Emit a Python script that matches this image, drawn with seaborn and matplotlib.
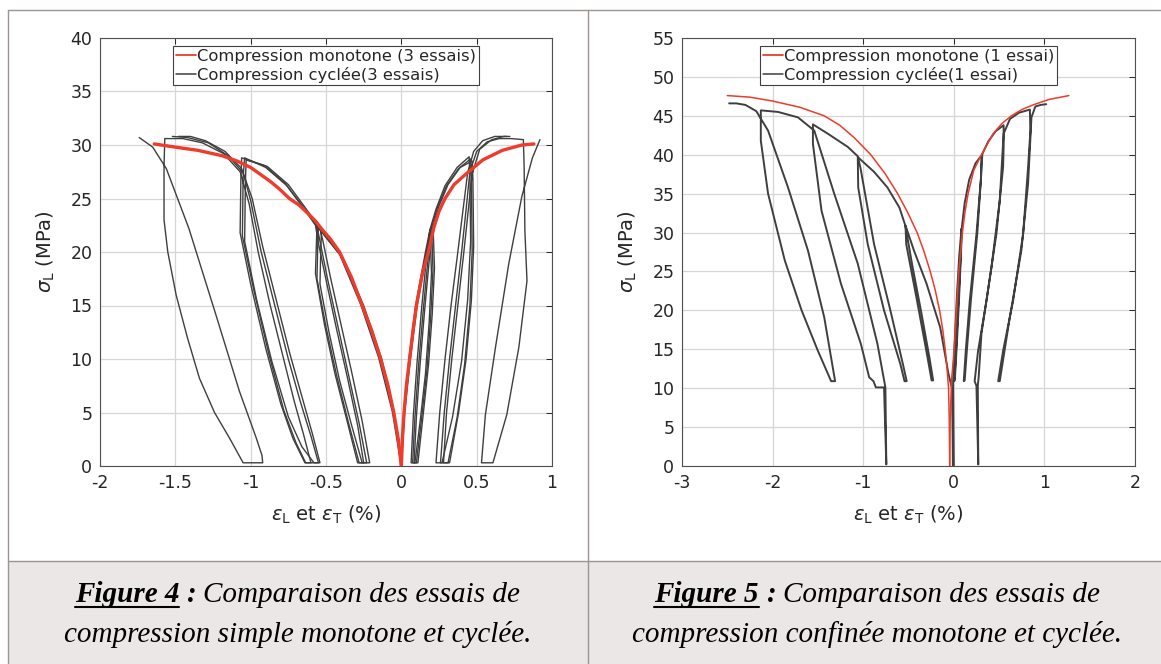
import matplotlib
matplotlib.use('Agg')
import pandas as pd
import matplotlib.pyplot as plt
from matplotlib.lines import Line2D
from matplotlib.patches import Rectangle
from matplotlib.ticker import FormatStrFormatter
from matplotlib.transforms import IdentityTransform
import seaborn as sns

# ---- Figure 4 : compression simple (x = strain %, y = sigma_L MPa) ----
fig4_mono_T = [(0.0, 0.0), (-0.02, 2.5), (-0.05, 5.0), (-0.09, 7.6), (-0.137, 10.0), (-0.195, 12.6),
               (-0.26, 15.0), (-0.33, 17.6), (-0.41, 20.0), (-0.47, 21.2), (-0.52, 22.0), (-0.57, 22.9),
               (-0.62, 23.6), (-0.68, 24.4), (-0.743, 25.0), (-0.81, 25.9), (-0.87, 26.6), (-0.94, 27.3),
               (-1.0, 27.9), (-1.09, 28.5), (-1.19, 29.0), (-1.35, 29.5), (-1.5, 29.8), (-1.64, 30.1)]
fig4_mono_L = [(0.0, 0.0), (0.007, 2.5), (0.018, 5.0), (0.034, 7.6), (0.055, 10.0), (0.077, 12.6),
               (0.10, 15.0), (0.14, 18.0), (0.18, 20.0), (0.216, 22.3), (0.25, 23.8), (0.29, 25.0),
               (0.35, 26.3), (0.43, 27.3), (0.54, 28.6), (0.67, 29.5), (0.80, 30.0), (0.88, 30.1)]

fig4_cyc_T_a = [(0.0, 0.0), (-0.05, 5.0), (-0.14, 10.2), (-0.26, 15.0), (-0.40, 19.6), (-0.55, 22.3),
                (-0.555, 20.5), (-0.56, 17.5), (-0.50, 13.0), (-0.43, 8.5), (-0.35, 4.0), (-0.28, 0.3),
                (-0.23, 0.3), (-0.28, 4.0), (-0.35, 8.5), (-0.42, 13.0), (-0.49, 17.5), (-0.54, 21.0), (-0.56, 22.4),
                (-0.64, 24.0), (-0.76, 26.2), (-0.90, 27.9), (-1.04, 28.8),
                (-1.05, 27.0), (-1.055, 21.5), (-0.98, 16.5), (-0.88, 10.5), (-0.78, 5.2), (-0.70, 2.2), (-0.635, 0.3),
                (-0.60, 0.3), (-0.65, 3.0), (-0.71, 6.0), (-0.79, 10.5), (-0.87, 15.0), (-0.95, 20.0), (-1.01, 24.5),
                (-1.07, 27.5), (-1.18, 29.2), (-1.32, 30.2), (-1.45, 30.6), (-1.57, 30.6),
                (-1.575, 28.0), (-1.575, 23.0), (-1.55, 20.0), (-1.495, 16.0), (-1.42, 12.0), (-1.34, 8.2),
                (-1.24, 5.0), (-1.14, 2.6), (-1.05, 0.3),
                (-0.92, 0.3), (-0.925, 1.0), (-0.965, 2.7), (-1.075, 7.0), (-1.23, 14.1), (-1.41, 22.2),
                (-1.56, 27.8), (-1.65, 29.8), (-1.74, 30.7)]
fig4_cyc_T_b = [(0.0, 0.0), (-0.05, 5.2), (-0.13, 10.0), (-0.25, 15.0), (-0.39, 19.5), (-0.53, 22.1),
                (-0.535, 20.0), (-0.54, 17.0), (-0.48, 12.5), (-0.41, 8.0), (-0.33, 3.8), (-0.26, 0.3),
                (-0.21, 0.3), (-0.26, 4.2), (-0.33, 8.8), (-0.40, 13.2), (-0.47, 17.6), (-0.52, 21.0), (-0.54, 22.2),
                (-0.62, 23.8), (-0.75, 26.3), (-0.89, 28.0), (-1.03, 28.6),
                (-1.035, 26.5), (-1.04, 21.0), (-0.96, 15.5), (-0.86, 9.8), (-0.75, 4.6), (-0.66, 1.8), (-0.58, 0.3),
                (-0.54, 0.3), (-0.59, 3.0), (-0.66, 6.5), (-0.74, 10.5), (-0.83, 15.5), (-0.92, 20.5), (-0.99, 25.0),
                (-1.06, 27.8), (-1.17, 29.4), (-1.30, 30.4), (-1.40, 30.8), (-1.48, 30.8)]
fig4_cyc_T_c = [(0.0, 0.0), (-0.06, 5.1), (-0.15, 10.1), (-0.27, 15.1), (-0.41, 19.8), (-0.56, 22.4),
                (-0.565, 20.2), (-0.57, 18.0), (-0.51, 13.2), (-0.44, 8.6), (-0.36, 4.2), (-0.29, 0.3),
                (-0.25, 0.3), (-0.29, 3.8), (-0.36, 8.4), (-0.43, 12.8), (-0.50, 17.4), (-0.55, 20.8), (-0.57, 22.5),
                (-0.65, 24.1), (-0.77, 26.4), (-0.91, 28.1), (-1.06, 28.8),
                (-1.065, 26.8), (-1.07, 21.8), (-1.00, 17.0), (-0.90, 11.0), (-0.80, 5.8), (-0.72, 2.6), (-0.64, 0.3),
                (-0.55, 0.3), (-0.60, 2.8), (-0.67, 6.0), (-0.75, 10.0), (-0.84, 15.0), (-0.93, 20.0), (-1.00, 24.8),
                (-1.05, 27.4), (-1.15, 29.0), (-1.28, 30.2), (-1.42, 30.7), (-1.52, 30.8)]

fig4_cyc_L_a = [(0.0, 0.0), (0.02, 5.0), (0.055, 10.0), (0.10, 15.0), (0.165, 20.0), (0.20, 22.3),
                (0.205, 20.5), (0.21, 18.3), (0.195, 14.0), (0.17, 9.0), (0.135, 4.5), (0.10, 0.3),
                (0.075, 0.3), (0.09, 4.5), (0.115, 9.5), (0.145, 14.5), (0.175, 19.0), (0.20, 22.3),
                (0.24, 24.2), (0.30, 26.2), (0.38, 27.8), (0.46, 28.7),
                (0.465, 27.0), (0.47, 20.0), (0.455, 15.0), (0.42, 9.5), (0.37, 4.5), (0.31, 0.3),
                (0.26, 0.3), (0.285, 5.0), (0.32, 10.0), (0.36, 15.0), (0.40, 20.0), (0.43, 24.0), (0.455, 27.5),
                (0.50, 29.4), (0.57, 30.3), (0.65, 30.6), (0.73, 30.6), (0.81, 30.5),
                (0.815, 28.0), (0.82, 22.0), (0.834, 17.3), (0.78, 11.1), (0.70, 4.8), (0.608, 0.3),
                (0.532, 0.3), (0.558, 4.8), (0.625, 11.1), (0.713, 18.9), (0.80, 25.2), (0.87, 28.8), (0.92, 30.5)]
fig4_cyc_L_b = [(0.0, 0.0), (0.018, 5.0), (0.05, 10.0), (0.095, 15.0), (0.16, 20.0), (0.19, 22.1),
                (0.195, 20.2), (0.20, 18.0), (0.185, 13.5), (0.16, 8.6), (0.125, 4.2), (0.09, 0.3),
                (0.065, 0.3), (0.08, 4.8), (0.105, 9.8), (0.135, 14.8), (0.165, 19.2), (0.19, 22.1),
                (0.23, 24.0), (0.29, 26.2), (0.37, 27.9), (0.45, 28.9),
                (0.455, 27.2), (0.46, 21.0), (0.44, 15.5), (0.40, 9.8), (0.34, 4.6), (0.27, 0.3),
                (0.23, 0.3), (0.255, 5.0), (0.29, 10.0), (0.33, 15.0), (0.375, 20.0), (0.41, 24.0), (0.44, 27.4),
                (0.48, 29.4), (0.54, 30.4), (0.62, 30.8), (0.70, 30.8)]
fig4_cyc_L_c = [(0.0, 0.0), (0.022, 5.0), (0.06, 10.0), (0.105, 15.0), (0.17, 20.0), (0.21, 22.4),
                (0.215, 20.6), (0.22, 18.5), (0.205, 14.2), (0.18, 9.4), (0.145, 4.8), (0.11, 0.3),
                (0.085, 0.3), (0.10, 4.6), (0.125, 9.6), (0.155, 14.6), (0.185, 19.2), (0.21, 22.4),
                (0.25, 24.3), (0.31, 26.3), (0.39, 27.9), (0.47, 28.5),
                (0.475, 26.8), (0.48, 20.5), (0.465, 15.5), (0.43, 10.0), (0.38, 5.0), (0.32, 0.3),
                (0.28, 0.3), (0.30, 5.0), (0.335, 10.0), (0.375, 15.0), (0.415, 20.0), (0.445, 24.0), (0.47, 27.3),
                (0.52, 29.6), (0.60, 30.5), (0.68, 30.8), (0.72, 30.8)]

# ---- Figure 5 : compression confinee ----
fig5_mono_T = [(-0.045, 0.0), (-0.05, 6.0), (-0.058, 10.0), (-0.075, 12.6), (-0.095, 15.0), (-0.123, 17.6),
               (-0.157, 20.0), (-0.205, 22.6), (-0.26, 25.0), (-0.33, 27.6), (-0.405, 30.0), (-0.51, 32.6),
               (-0.62, 35.0), (-0.76, 37.6), (-0.916, 40.0), (-1.10, 42.2), (-1.26, 43.8), (-1.43, 45.0),
               (-1.70, 46.1), (-2.0, 46.9), (-2.25, 47.4), (-2.5, 47.6)]
fig5_mono_L = [(-0.045, 0.0), (-0.04, 6.0), (-0.025, 11.0), (0.004, 15.0), (0.03, 20.0), (0.055, 25.0),
               (0.095, 30.0), (0.123, 32.6), (0.158, 35.0), (0.22, 38.0), (0.305, 40.0), (0.434, 42.7),
               (0.53, 44.0), (0.636, 45.0), (0.75, 45.8), (0.875, 46.4), (1.05, 47.1), (1.27, 47.6)]

fig5_cyc_T = [(-0.01, 0.0), (-0.015, 6.0), (-0.02, 10.0), (-0.058, 11.8), (-0.15, 17.8), (-0.30, 23.4),
              (-0.44, 27.7), (-0.533, 30.9),
              (-0.525, 28.5), (-0.41, 21.5), (-0.30, 14.6), (-0.245, 11.0), (-0.228, 11.0), (-0.27, 14.0),
              (-0.36, 19.8), (-0.46, 25.9), (-0.535, 30.9),
              (-0.60, 33.2), (-0.733, 35.8), (-0.88, 37.8), (-1.06, 39.7),
              (-1.055, 35.8), (-0.95, 28.5), (-0.77, 20.0), (-0.59, 13.1), (-0.544, 10.9), (-0.52, 10.9),
              (-0.56, 13.0), (-0.70, 20.0), (-0.88, 28.5), (-1.03, 38.3), (-1.06, 39.8),
              (-1.17, 41.0), (-1.39, 42.7), (-1.555, 43.9),
              (-1.555, 41.4), (-1.46, 32.8), (-1.245, 23.4), (-1.026, 15.7), (-0.934, 11.4), (-0.887, 10.9),
              (-0.86, 10.1), (-0.77, 10.1), (-0.745, 0.2), (-0.755, 10.1), (-0.843, 15.7), (-1.06, 26.0),
              (-1.32, 35.0), (-1.54, 43.1), (-1.72, 44.8), (-1.94, 45.5), (-2.13, 45.7),
              (-2.13, 41.8), (-2.05, 35.0), (-1.865, 26.4), (-1.68, 20.0), (-1.50, 14.8), (-1.354, 10.9),
              (-1.31, 10.9), (-1.43, 19.1), (-1.61, 27.7), (-1.83, 35.8), (-2.05, 43.1), (-2.18, 45.6),
              (-2.30, 46.4), (-2.40, 46.6), (-2.48, 46.6)]
fig5_cyc_L = [(0.0, 0.0), (-0.005, 6.0), (-0.008, 10.8), (0.01, 16.0), (0.035, 22.0), (0.06, 27.0), (0.085, 30.5),
              (0.075, 27.0), (0.05, 21.0), (0.025, 15.0), (0.01, 11.6), (0.005, 10.9), (0.012, 11.2),
              (0.035, 16.0), (0.06, 22.0), (0.08, 27.5), (0.09, 30.8),
              (0.12, 33.8), (0.17, 36.8), (0.24, 38.9), (0.305, 39.9),
              (0.30, 37.0), (0.25, 29.8), (0.176, 21.2), (0.132, 14.8), (0.11, 10.9), (0.12, 11.0),
              (0.145, 15.0), (0.19, 21.5), (0.26, 30.0), (0.30, 37.0), (0.315, 40.1),
              (0.38, 41.7), (0.46, 43.0), (0.55, 43.8),
              (0.55, 41.0), (0.544, 38.4), (0.47, 29.8), (0.36, 21.2), (0.268, 14.8), (0.23, 10.9),
              (0.25, 10.3), (0.27, 0.2), (0.265, 10.3), (0.275, 11.5), (0.305, 17.0), (0.415, 25.5),
              (0.507, 34.1), (0.55, 42.7), (0.62, 44.6), (0.72, 45.4), (0.84, 45.8),
              (0.845, 43.0), (0.82, 38.4), (0.765, 29.8), (0.654, 21.2), (0.544, 14.8), (0.49, 10.9),
              (0.507, 10.9), (0.618, 19.1), (0.746, 27.7), (0.82, 36.3), (0.857, 44.8), (0.90, 46.2),
              (0.96, 46.4), (1.02, 46.5)]

fig4_legend = ['Compression monotone (3 essais)', 'Compression cyclée(3 essais)']
fig5_legend = ['Compression monotone (1 essai)', 'Compression cyclée(1 essai)']
fig4_xticks = [-2, -1.5, -1, -0.5, 0, 0.5, 1]
fig4_yticks = [0, 5, 10, 15, 20, 25, 30, 35, 40]
fig5_xticks = [-3, -2, -1, 0, 1, 2]
fig5_yticks = [0, 5, 10, 15, 20, 25, 30, 35, 40, 45, 50, 55]

W, H, DPI = 1161, 664, 100
RED = '#ee3b2b'
GRAY = '#3f3f3f'
INK = '#262626'
RULE = '#9c9490'


def paths_frame(paths):
    frames = []
    for name, pts in paths.items():
        d = pd.DataFrame(pts, columns=['x', 'y'])
        d['path'] = name
        frames.append(d)
    return pd.concat(frames, ignore_index=True)


def draw_panel(ax, mono, cyc, lw_mono, lw_cyc, xticks, yticks, labels):
    sns.lineplot(data=paths_frame(cyc), x='x', y='y', units='path', estimator=None, sort=False,
                 color=GRAY, linewidth=lw_cyc, ax=ax, legend=False)
    sns.lineplot(data=paths_frame(mono), x='x', y='y', units='path', estimator=None, sort=False,
                 color=RED, linewidth=lw_mono, ax=ax, legend=False)
    ax.set_xlim(xticks[0], xticks[-1])
    ax.set_ylim(yticks[0], yticks[-1])
    ax.set_xticks(xticks)
    ax.set_yticks(yticks)
    ax.xaxis.set_major_formatter(FormatStrFormatter('%g'))
    ax.yaxis.set_major_formatter(FormatStrFormatter('%g'))
    ax.grid(True, color='#d6d6d6', linewidth=0.9)
    ax.set_axisbelow(True)
    ax.tick_params(direction='in', top=True, right=True, length=4, width=0.7, colors=INK,
                   labelsize=12.5, pad=5.5)
    for s in ax.spines.values():
        s.set_color('#505050')
        s.set_linewidth(0.8)
    ax.set_xlabel(r'$\epsilon_\mathregular{L}$ et $\epsilon_\mathregular{T}$ (%)', fontsize=14, color=INK)
    ax.set_ylabel(r'$\sigma_\mathregular{L}$ (MPa)', fontsize=14, color=INK)
    ax.xaxis.label.set_va('center')
    ax.yaxis.label.set_va('center')
    ax.xaxis.set_label_coords(0.5, -49 / 428)
    ax.yaxis.set_label_coords(-54 / 452, 0.5)
    handles = [Line2D([], [], color=RED, linewidth=1.3), Line2D([], [], color=GRAY, linewidth=1.1)]
    leg = ax.legend(handles, labels, loc='upper center', fontsize=11.8, frameon=True, fancybox=False,
                    framealpha=1, edgecolor='#404040', borderpad=0.15, handlelength=1.25,
                    handletextpad=0.05, labelspacing=0.2, borderaxespad=0.5)
    leg.get_frame().set_linewidth(0.8)
    for t in leg.get_texts():
        t.set_color(INK)


def caption(fig, cx, num, rest1, line2):
    rend = fig.canvas.get_renderer()
    size = 21
    base = dict(family='Liberation Serif', size=size, style='italic', color='black',
                va='baseline', transform=IdentityTransform())
    y1 = H - 602
    y2 = H - 642
    space = 0.25 * size * DPI / 72
    pieces = [('Figure %d' % num, 'bold'), (':', 'bold'), (rest1, 'normal')]
    arts = [fig.text(0, y1, s, weight=w, ha='left', **base) for s, w in pieces]
    widths = [a.get_window_extent(rend).width for a in arts]
    total = sum(widths) + space * (len(arts) - 1)
    x = cx - total / 2
    x0 = x
    for a, w in zip(arts, widths):
        a.set_x(x)
        x += w + space
    fig.add_artist(Line2D([x0, x0 + widths[0]], [y1 - 5, y1 - 5], transform=IdentityTransform(),
                          color='black', linewidth=1.5))
    fig.text(cx, y2, line2, ha='center', **base)


sns.set_style('white')
plt.rcParams['font.family'] = ['DejaVu Sans']
plt.rcParams['axes.unicode_minus'] = False

fig = plt.figure(figsize=(W / DPI, H / DPI), dpi=DPI)
fig.patch.set_facecolor('white')

# table layout (cells, rules)
px = lambda x: x / W
py = lambda y: 1 - y / H
fig.add_artist(Rectangle((px(8), 0), px(W - 8), 103 / H, transform=fig.transFigure,
                         facecolor='#ebe7e6', edgecolor='none', zorder=0))
for xs, ys in [([7.5, W], [9.5, 9.5]), ([7.5, 7.5], [9.5, H]), ([588, 588], [9.5, H]), ([7.5, W], [561, 561])]:
    fig.add_artist(Line2D([px(v) for v in xs], [py(v) for v in ys], transform=fig.transFigure,
                          color=RULE, linewidth=1.0, zorder=1))

ax1 = fig.add_axes([px(100), py(466), 452 / W, 428 / H])
ax2 = fig.add_axes([px(682), py(466), 453 / W, 428 / H])

draw_panel(ax1, {'T': fig4_mono_T, 'L': fig4_mono_L},
           {'Ta': fig4_cyc_T_a, 'Tb': fig4_cyc_T_b, 'Tc': fig4_cyc_T_c,
            'La': fig4_cyc_L_a, 'Lb': fig4_cyc_L_b, 'Lc': fig4_cyc_L_c},
           2.4, 1.0, fig4_xticks, fig4_yticks, fig4_legend)
draw_panel(ax2, {'T': fig5_mono_T, 'L': fig5_mono_L},
           {'T': fig5_cyc_T, 'L': fig5_cyc_L},
           1.1, 1.4, fig5_xticks, fig5_yticks, fig5_legend)

caption(fig, 297.5, 4, 'Comparaison des essais de', 'compression simple monotone et cyclée.')
caption(fig, 877, 5, 'Comparaison des essais de', 'compression confinée monotone et cyclée.')

fig.savefig('out.png', dpi=DPI)
